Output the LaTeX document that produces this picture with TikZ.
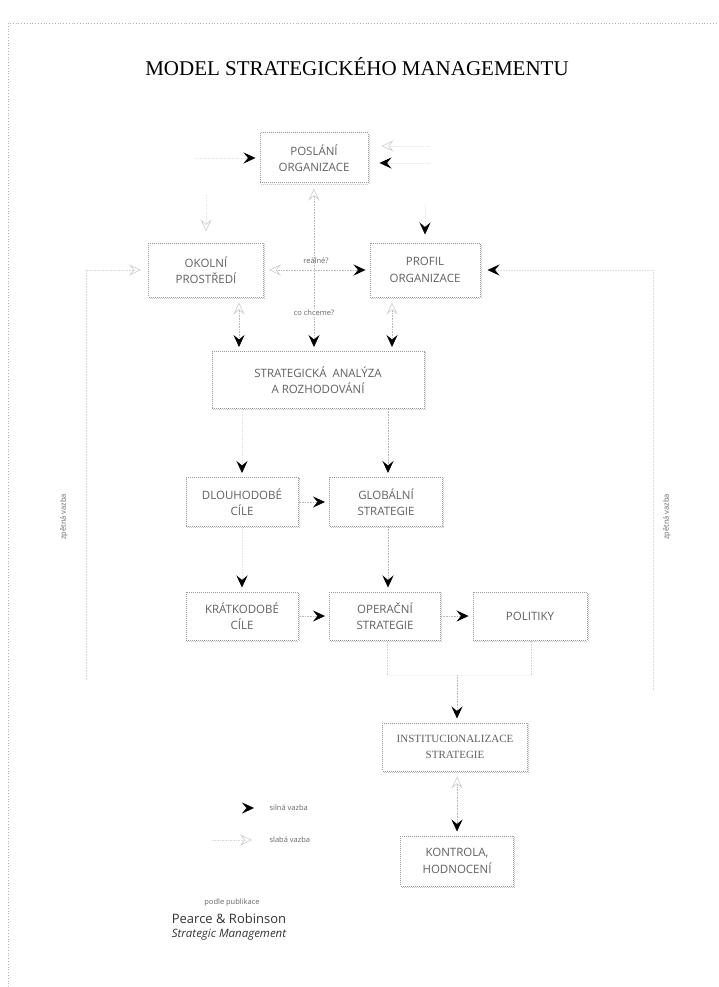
\documentclass[tikz,border=0pt]{standalone}
\usepackage{fontspec}
\setmainfont{Liberation Serif}
\newfontfamily\boxfont{Open Sans}
\usetikzlibrary{arrows.meta,shadows}
\begin{document}
\begin{tikzpicture}[x=1pt,y=-1pt,
  box/.style={draw=gray!80, densely dotted, line width=1pt, fill=white, align=center,
    text=black!62, font=\boxfont\fontsize{11.5}{16.5}\selectfont, inner sep=0pt,
    copy shadow={shadow xshift=1.4pt, shadow yshift=-1.4pt, draw=gray!45}},
  conn/.style={draw=gray!55, densely dotted, line width=0.6pt},
  faint/.style={draw=gray!18, densely dotted, line width=0.6pt},
  strong/.style={-{Stealth[length=12pt,width=11pt,inset=4.5pt,color=black]}, shorten >=4pt},
  weak/.style={-{Stealth[open,length=12pt,width=11pt,inset=4.5pt,color=gray!40]}, shorten >=4pt},
  weakstrong/.style={{Stealth[open,length=12pt,width=11pt,inset=4.5pt,color=gray!40]}-{Stealth[length=12pt,width=11pt,inset=4.5pt,color=black]}, shorten >=4pt, shorten <=5pt},
  lbl/.style={font=\boxfont\fontsize{7.5}{9}\selectfont, text=black!60},
]
\useasboundingbox (0,0) rectangle (718,987);
\draw[gray!60, dotted, line width=0.8pt] (8,987) -- (8,23) -- (718,23);

\node[font=\fontsize{21}{24}\selectfont] (title) at (357,67) {MODEL STRATEGICKÉHO MANAGEMENTU};

\node[box, minimum width=108pt, minimum height=50pt] (po) at (314,158) {POSLÁNÍ\\ORGANIZACE};
\node[box, minimum width=115pt, minimum height=54pt] (ok) at (206,270) {OKOLNÍ\\PROSTŘEDÍ};
\node[box, minimum width=110pt, minimum height=54pt] (pr) at (425,270) {PROFIL\\ORGANIZACE};
\node[box, minimum width=212pt, minimum height=57pt] (sa) at (318,380) {STRATEGICKÁ\ \ ANALÝZA\\A ROZHODOVÁNÍ};
\node[box, minimum width=112pt, minimum height=49pt] (dl) at (242,502) {DLOUHODOBÉ\\CÍLE};
\node[box, minimum width=113pt, minimum height=49pt] (gl) at (386,502) {GLOBÁLNÍ\\STRATEGIE};
\node[box, minimum width=112pt, minimum height=48pt] (kr) at (242,616) {KRÁTKODOBÉ\\CÍLE};
\node[box, minimum width=111pt, minimum height=48pt] (op) at (385,616) {OPERAČNÍ\\STRATEGIE};
\node[box, minimum width=114pt, minimum height=48pt] (pol) at (530,616) {POLITIKY};
\node[box, minimum width=145pt, minimum height=48pt, font=\fontsize{11}{15.5}\selectfont] (in) at (455,747) {INSTITUCIONALIZACE\\STRATEGIE};
\node[box, minimum width=113pt, minimum height=50pt] (ko) at (457,861) {KONTROLA,\\HODNOCENÍ};

% coordinates for free ends
\coordinate (poL) at (195,158);
\coordinate (poRa) at (430,146);
\coordinate (poRb) at (430,163);
\coordinate (okT) at (206,195);
\coordinate (prT) at (425,205);
\coordinate (fbLb) at (86,680);
\coordinate (fbLt) at (86,270);
\coordinate (fbRb) at (653,690);
\coordinate (fbRt) at (653,270);
\coordinate (opB) at (387,675);
\coordinate (polB) at (531,675);
\coordinate (inT) at (457,675);

% top connectors
\draw[faint, strong] (poL) -- (po.west);
\draw[faint, weak, shorten >=13pt] (poRa) -- (po.east |- poRa);
\draw[faint, strong, shorten >=11pt] (poRb) -- (po.east |- poRb);
\draw[faint, weak, shorten >=11pt] (okT) -- (ok.north);
\draw[faint, strong, shorten >=8pt] (prT) -- (pr.north);
\draw[faint, draw=gray!28, weak, shorten >=7pt] (fbLb) -- (fbLt) -- (ok.west);
\draw[faint, draw=gray!28, strong, shorten >=7pt] (fbRb) -- (fbRt) -- (pr.east);
\draw[conn, weakstrong] (ok.east) -- (pr.west);
\draw[conn, weakstrong] (po.south) -- (po.south |- sa.north);
\draw[conn, weakstrong] ([xshift=33pt]ok.south) -- ([xshift=33pt]ok.south |- sa.north);
\draw[conn, weakstrong] ([xshift=-33pt]pr.south) -- ([xshift=-33pt]pr.south |- sa.north);

\node[lbl] (realne) at (316,261) {reálné?};
\node[lbl, fill=white, inner sep=1pt] (cochceme) at (314,313) {co chceme?};

% middle connectors
\draw[faint, strong] (dl.north |- sa.south) -- (dl.north);
\draw[conn, strong] ([xshift=2pt]gl.north |- sa.south) -- ([xshift=2pt]gl.north);
\draw[conn, strong] (dl.east) -- (gl.west);
\draw[faint, strong] (dl.south) -- (kr.north);
\draw[conn, strong] ([xshift=2pt]gl.south) -- ([xshift=2pt]gl.south |- op.north);
\draw[conn, strong] (kr.east) -- (op.west);
\draw[conn, strong] (op.east) -- (pol.west);

% lower connectors
\draw[faint, draw=gray!35] (op.south -| opB) -- (opB);
\draw[faint, draw=gray!35] (pol.south -| polB) -- (polB);
\draw[faint, draw=gray!10] (opB) -- (polB);
\draw[conn, strong] (inT) -- (inT |- in.north);
\draw[conn, weakstrong] (in.south -| inT) -- (ko.north -| inT);

% feedback labels
\node[lbl, rotate=90] (zvL) at (64,517) {zpětná vazba};
\node[lbl, rotate=90] (zvR) at (667,517) {zpětná vazba};

% legend
\coordinate (lsA) at (236,808);
\coordinate (lsB) at (254,808);
\draw[white, -{Stealth[length=12pt,width=11pt,inset=4.5pt,color=black]}] (lsA) -- (lsB);
\node[lbl, anchor=west] (lsT) at (266,808) {silná vazba};
\coordinate (lwA) at (212,840);
\coordinate (lwB) at (252,840);
\draw[faint, draw=gray!30, -{Stealth[open,length=12pt,width=11pt,inset=4.5pt,color=gray!40]}] (lwA) -- (lwB);
\node[lbl, anchor=west] (lwT) at (266,840) {slabá vazba};

% credits
\node[lbl] (cr1) at (232,903) {podle publikace};
\node[font=\boxfont\fontsize{13}{15}\selectfont, text=black!80] (cr2) at (229,919) {Pearce \& Robinson};
\node[font=\boxfont\itshape\fontsize{11.5}{13}\selectfont, text=black!80] (cr3) at (229,935) {Strategic Management};
\end{tikzpicture}
\end{document}
